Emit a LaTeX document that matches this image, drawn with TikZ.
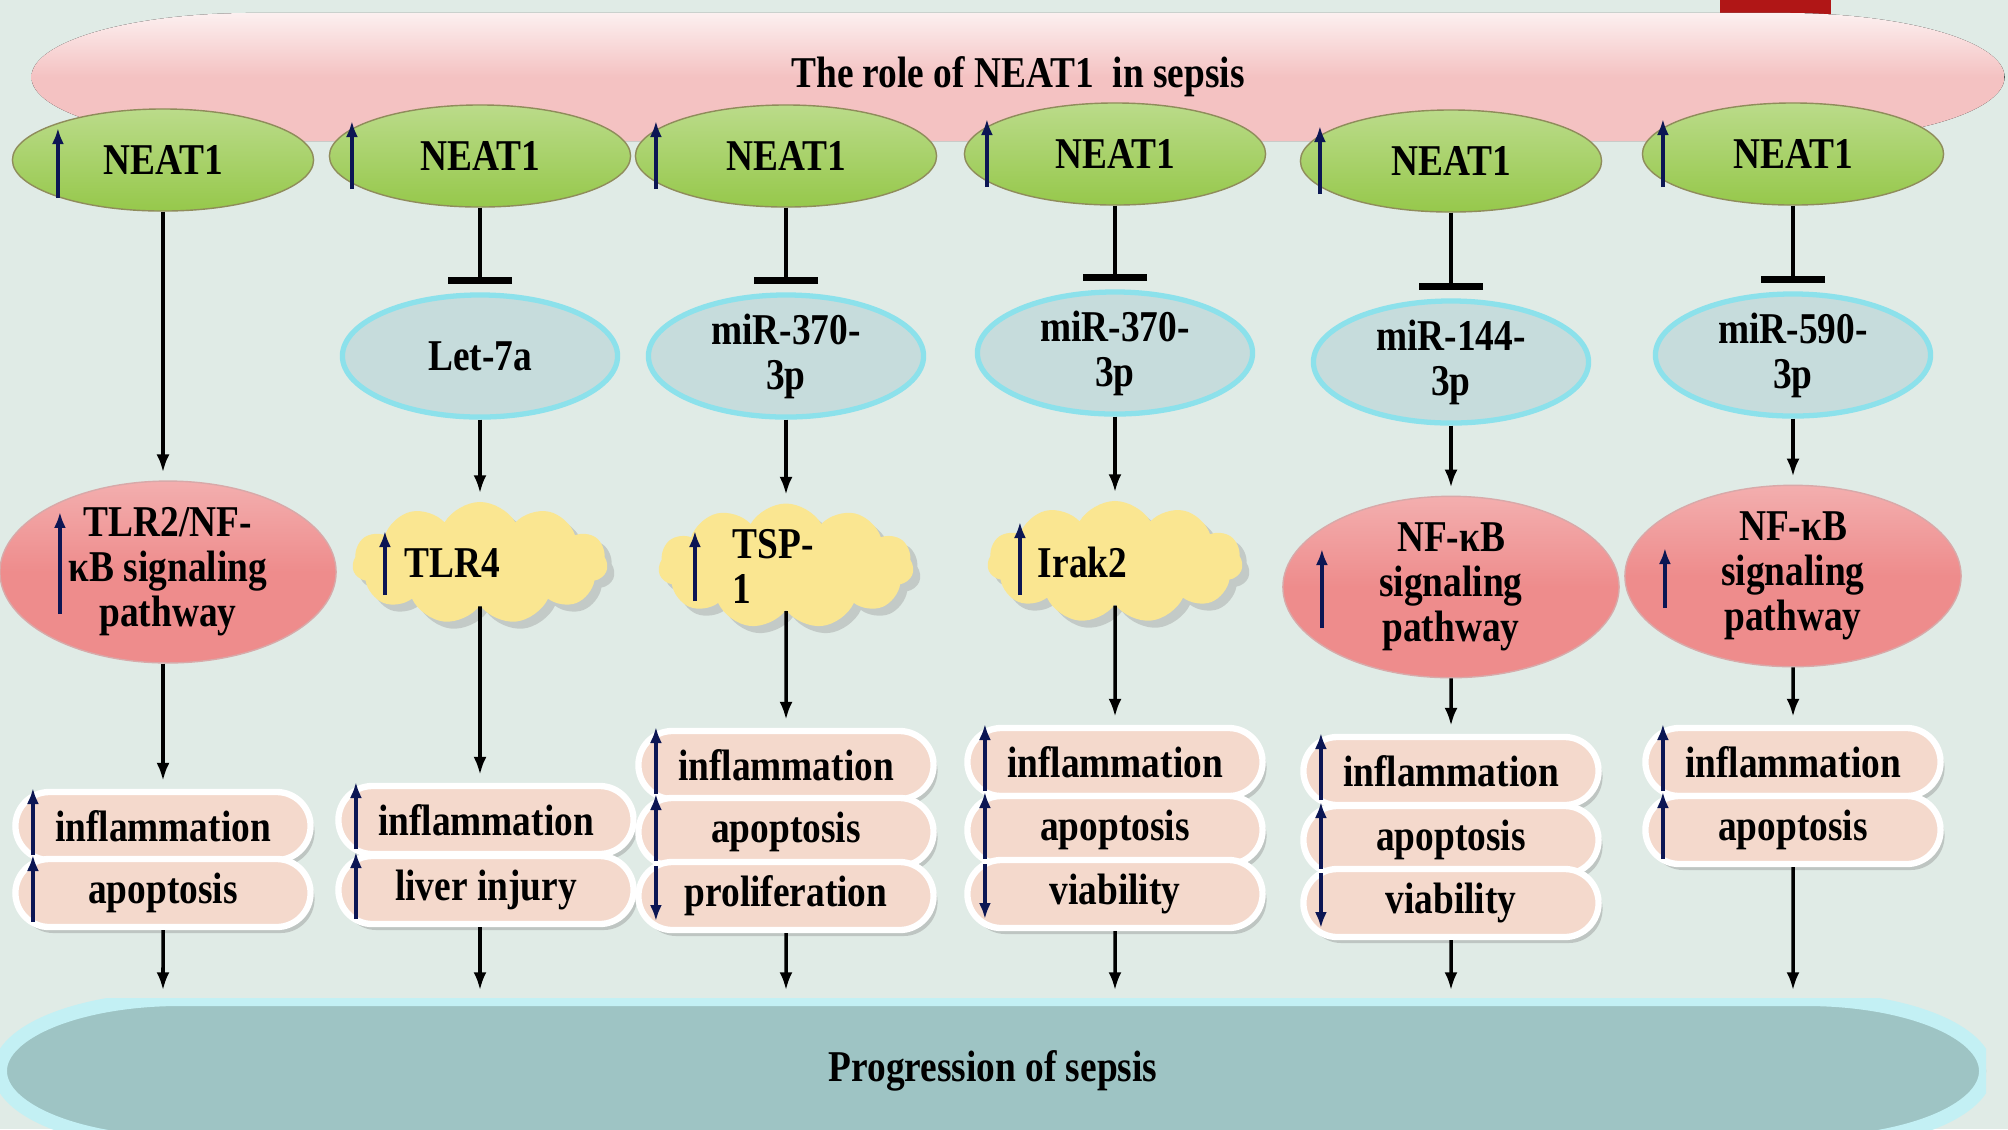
\documentclass[tikz,border=0pt]{standalone}
\usepackage{fontspec}
\setmainfont{Liberation Serif}[FakeStretch=0.85]
\usepackage{tikz}
\usetikzlibrary{arrows.meta,shapes.geometric,shapes.misc,shapes.symbols,shadows}

\definecolor{bgmint}{RGB}{224,235,230}
\definecolor{rolepink}{RGB}{244,194,194}
\definecolor{neatgreen}{RGB}{150,200,75}
\definecolor{mirblue}{RGB}{198,220,220}
\definecolor{mirrim}{RGB}{140,225,235}
\definecolor{pathred}{RGB}{238,140,140}
\definecolor{cloudyel}{RGB}{250,230,145}
\definecolor{pillpeach}{RGB}{244,217,204}
\definecolor{sepsisteal}{RGB}{158,196,196}
\definecolor{sepsisrim}{RGB}{195,240,244}
\definecolor{updown}{RGB}{12,22,84}
\definecolor{cornerred}{RGB}{176,22,22}

% flat band with long elliptic ends
\newcommand\bandoutline[2]{(path picture bounding box.west)
  arc[start angle=180, end angle=90, x radius=#1, y radius=#2]
  -- ([xshift=-#1]path picture bounding box.north east)
  arc[start angle=90, end angle=0, x radius=#1, y radius=#2]
  arc[start angle=0, end angle=-90, x radius=#1, y radius=#2]
  -- ([xshift=#1]path picture bounding box.south west)
  arc[start angle=270, end angle=180, x radius=#1, y radius=#2] -- cycle}

\tikzset{
  txt/.style={font=\fontsize{12.5}{12.8}\selectfont\bfseries, align=center, inner sep=0pt},
  role/.style={txt, minimum width=19.72cm, minimum height=1.28cm,
    path picture={\fill[top color=rolepink!25!white, bottom color=rolepink, middle color=rolepink] \bandoutline{2.2cm}{0.64cm};}},
  sepsis/.style={txt, minimum width=19.85cm, minimum height=1.44cm,
    path picture={\filldraw[fill=sepsisteal, draw=sepsisrim, line width=4pt] \bandoutline{1.8cm}{0.72cm};}},
  neat/.style={txt, ellipse, minimum width=3.01cm, minimum height=1.02cm,
    top color=neatgreen!65!white, bottom color=neatgreen, draw=neatgreen!70!violet, line width=0.4pt},
  mir/.style={txt, ellipse, minimum width=2.75cm, minimum height=1.22cm,
    fill=mirblue, draw=mirrim, line width=1.5pt},
  pathway/.style={txt, ellipse, minimum width=3.36cm, minimum height=1.79cm,
    top color=pathred!70!white, bottom color=pathred, middle color=pathred, draw=pathred!80!black!60, line width=0.4pt},
  cloudbox/.style={txt, cloud, cloud puffs=11, cloud puff arc=120, cloud ignores aspect,
    minimum width=2.55cm, minimum height=1.22cm, fill=cloudyel,
    drop shadow={opacity=0.3, shadow xshift=0.07cm, shadow yshift=-0.07cm}},
  pill/.style={txt, rounded rectangle, minimum width=2.95cm, minimum height=0.68cm,
    fill=pillpeach, draw=white, line width=1.8pt,
    drop shadow={opacity=0.35, shadow xshift=0.04cm, shadow yshift=-0.06cm}},
  arr/.style={-{Latex[length=0.18cm,width=0.13cm]}, line width=1pt, shorten >=0.08cm},
  inh/.style={-{Bar[width=0.64cm,line width=2pt]}, line width=1pt, shorten >=0.08cm},
  trend/.style={-{Latex[length=0.16cm,width=0.12cm]}, draw=updown, line width=1.2pt}
}

\begin{document}
\begin{tikzpicture}[x=0.01cm,y=-0.01cm]
   \fill[bgmint] (0,0) rectangle (2008,1129);
   \useasboundingbox (0,0) rectangle (2008,1129);
   \fill[cornerred] (1720,0) rectangle (1831,15);

   \draw (1018,77) node[role] (role) {The role of NEAT1\ \ in sepsis};
   \draw (993,1071) node[sepsis] (sepsis) {Progression of sepsis};

   \draw (163,160) node[neat] (neat1) {NEAT1};
   \draw (480,156) node[neat] (neat2) {NEAT1};
   \draw (786,156) node[neat] (neat3) {NEAT1};
   \draw (1115,154) node[neat] (neat4) {NEAT1};
   \draw (1451,161) node[neat] (neat5) {NEAT1};
   \draw (1793,154) node[neat] (neat6) {NEAT1};

   \draw (480,356) node[mir] (let7a) {Let-7a};
   \draw (786,356) node[mir] (mir370a) {miR-370-\\3p};
   \draw (1115,353) node[mir] (mir370b) {miR-370-\\3p};
   \draw (1451,362) node[mir] (mir144) {miR-144-\\3p};
   \draw (1793,355) node[mir] (mir590) {miR-590-\\3p};

   \draw (168,572) node[pathway] (tlr2) {TLR2/NF-\\κB signaling\\pathway};
   \draw (480,563) node[cloudbox, text width=1.5cm, align=left] (tlr4) {TLR4};
   \draw (786,566) node[cloudbox, text width=1.06cm, align=left] (tsp1) {TSP-\\1};
   \draw (1115,562) node[cloudbox, text width=1.54cm, align=left] (irak2) {Irak2};
   \draw (1451,587) node[pathway] (nfkbA) {NF-κB\\signaling\\pathway};
   \draw (1793,576) node[pathway] (nfkbB) {NF-κB\\signaling\\pathway};

   \draw (163,826) node[pill] (infl1) {inflammation};
   \draw (163,893) node[pill] (apop1) {apoptosis};
   \draw (486,820) node[pill] (infl2) {inflammation};
   \draw (486,890) node[pill] (liver2) {liver injury};
   \draw (786,765) node[pill] (infl3) {inflammation};
   \draw (786,832) node[pill] (apop3) {apoptosis};
   \draw (786,896) node[pill] (prol3) {proliferation};
   \draw (1115,762) node[pill] (infl4) {inflammation};
   \draw (1115,830) node[pill] (apop4) {apoptosis};
   \draw (1115,894) node[pill] (viab4) {viability};
   \draw (1451,771) node[pill] (infl5) {inflammation};
   \draw (1451,840) node[pill] (apop5) {apoptosis};
   \draw (1451,903) node[pill] (viab5) {viability};
   \draw (1793,762) node[pill] (infl6) {inflammation};
   \draw (1793,830) node[pill] (apop6) {apoptosis};

   % NEAT1 -> target -> effects -> sepsis
   \draw[arr] (neat1) -- (neat1 |- tlr2.north);
   \draw[arr] (tlr2.south -| neat1) -- (neat1 |- infl1.north);
   \draw[arr] (apop1) -- (apop1 |- sepsis.north);

   \draw[inh] (neat2) -- (let7a);
   \draw[arr] (let7a) -- (tlr4);
   \draw[arr] (tlr4) -- (tlr4 |- infl2.north);
   \draw[arr] (liver2.south -| tlr4) -- (tlr4 |- sepsis.north);

   \draw[inh] (neat3) -- (mir370a);
   \draw[arr] (mir370a) -- (tsp1);
   \draw[arr] (tsp1) -- (infl3);
   \draw[arr] (prol3) -- (prol3 |- sepsis.north);

   \draw[inh] (neat4) -- (mir370b);
   \draw[arr] (mir370b) -- (irak2);
   \draw[arr] (irak2) -- (infl4);
   \draw[arr] (viab4) -- (viab4 |- sepsis.north);

   \draw[inh] (neat5) -- (mir144);
   \draw[arr] (mir144) -- (nfkbA);
   \draw[arr] (nfkbA) -- (infl5);
   \draw[arr] (viab5) -- (viab5 |- sepsis.north);

   \draw[inh] (neat6) -- (mir590);
   \draw[arr] (mir590) -- (nfkbB);
   \draw[arr] (nfkbB) -- (infl6);
   \draw[arr] (apop6) -- (apop6 |- sepsis.north);

   % up / down marks
   \draw[trend] ([xshift=-1.05cm,yshift=-0.38cm]neat1.center) -- ++(0,0.70cm);
   \draw[trend] ([xshift=-1.28cm,yshift=-0.33cm]neat2.center) -- ++(0,0.68cm);
   \draw[trend] ([xshift=-1.30cm,yshift=-0.33cm]neat3.center) -- ++(0,0.68cm);
   \draw[trend] ([xshift=-1.28cm,yshift=-0.33cm]neat4.center) -- ++(0,0.68cm);
   \draw[trend] ([xshift=-1.31cm,yshift=-0.33cm]neat5.center) -- ++(0,0.68cm);
   \draw[trend] ([xshift=-1.30cm,yshift=-0.33cm]neat6.center) -- ++(0,0.68cm);

   \draw[trend] ([xshift=-1.08cm,yshift=-0.42cm]tlr2.center) -- ++(0,1.02cm);
   \draw[trend] ([xshift=-0.95cm,yshift=-0.32cm]tlr4.center) -- ++(0,0.64cm);
   \draw[trend] ([xshift=-0.91cm,yshift=-0.35cm]tsp1.center) -- ++(0,0.70cm);
   \draw[trend] ([xshift=-0.95cm,yshift=-0.33cm]irak2.center) -- ++(0,0.73cm);
   \draw[trend] ([xshift=-1.29cm,yshift=-0.41cm]nfkbA.center) -- ++(0,0.79cm);
   \draw[trend] ([xshift=-1.28cm,yshift=-0.32cm]nfkbB.center) -- ++(0,0.60cm);

   \draw[trend] ([xshift=-1.30cm,yshift=-0.29cm]infl1.center) -- ++(0,0.67cm);
   \draw[trend] ([xshift=-1.30cm,yshift=-0.29cm]apop1.center) -- ++(0,0.67cm);
   \draw[trend] ([xshift=-1.30cm,yshift=-0.29cm]infl2.center) -- ++(0,0.67cm);
   \draw[trend] ([xshift=-1.30cm,yshift=-0.29cm]liver2.center) -- ++(0,0.67cm);
   \draw[trend] ([xshift=-1.30cm,yshift=-0.29cm]infl3.center) -- ++(0,0.67cm);
   \draw[trend] ([xshift=-1.30cm,yshift=-0.29cm]apop3.center) -- ++(0,0.67cm);
   \draw[trend] ([xshift=-1.30cm,yshift=0.30cm]prol3.center) -- ++(0,-0.55cm);
   \draw[trend] ([xshift=-1.30cm,yshift=-0.29cm]infl4.center) -- ++(0,0.67cm);
   \draw[trend] ([xshift=-1.30cm,yshift=-0.29cm]apop4.center) -- ++(0,0.67cm);
   \draw[trend] ([xshift=-1.30cm,yshift=0.30cm]viab4.center) -- ++(0,-0.55cm);
   \draw[trend] ([xshift=-1.30cm,yshift=-0.29cm]infl5.center) -- ++(0,0.67cm);
   \draw[trend] ([xshift=-1.30cm,yshift=-0.29cm]apop5.center) -- ++(0,0.67cm);
   \draw[trend] ([xshift=-1.30cm,yshift=0.30cm]viab5.center) -- ++(0,-0.55cm);
   \draw[trend] ([xshift=-1.30cm,yshift=-0.29cm]infl6.center) -- ++(0,0.67cm);
   \draw[trend] ([xshift=-1.30cm,yshift=-0.29cm]apop6.center) -- ++(0,0.67cm);
\end{tikzpicture}
\end{document}
